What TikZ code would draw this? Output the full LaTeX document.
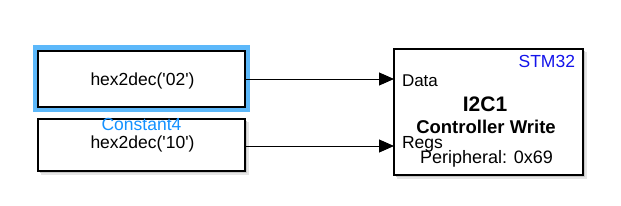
\documentclass[tikz,border=0pt]{standalone}
\usepackage{fontspec}
\setmainfont{Liberation Sans}
\usetikzlibrary{arrows.meta}
\definecolor{hilite}{RGB}{92,184,250}
\definecolor{lblblue}{RGB}{20,145,255}
\definecolor{stmblue}{RGB}{20,20,235}
\tikzset{
  blockbox/.style={draw=black,line width=1.3pt,fill=white,inner sep=0pt,outer sep=0pt},
  shadowA/.style={fill=black!10,draw=none},
  shadowB/.style={fill=black!22,draw=none},
  txt/.style={inner sep=0pt,outer sep=0pt,anchor=base},
  sig/.style={draw=black,line width=1pt,-{Triangle[length=15pt,width=13pt]}},
}
\begin{document}
\begin{tikzpicture}[x=1pt,y=-1pt]
\useasboundingbox (0,0) rectangle (621,206);
% shadows
\fill[shadowA] (41,54) rectangle (249,111);
\fill[shadowB] (40,53) rectangle (247,109);
\fill[shadowA] (41,122) rectangle (249,175);
\fill[shadowB] (40,121) rectangle (247,173);
\fill[shadowA] (397,52) rectangle (587,179);
\fill[shadowB] (396,51) rectangle (585,177);
% highlight
\fill[hilite] (33,44.5) rectangle (250,112);
% boxes
\node[blockbox,minimum width=207pt,minimum height=56pt] (box1) at (141.5,79) {};
\node[blockbox,minimum width=207pt,minimum height=52pt] (box2) at (141.5,145) {};
\node[blockbox,minimum width=189pt,minimum height=126pt] (blk) at (488.5,112) {};
% texts
\node[txt,font=\fontsize{17.5}{20}\selectfont] (t1) at (142.5,85) {hex2dec(\textquotesingle 02\textquotesingle)};
\node[txt,font=\fontsize{17.5}{20}\selectfont] (t2) at (142.5,148) {hex2dec(\textquotesingle 10\textquotesingle)};
\node[txt,font=\fontsize{17.5}{20}\selectfont,text=lblblue] (lbl) at (141.5,130) {Constant4};
\node[txt,anchor=base west,font=\fontsize{17}{20}\selectfont] (pd) at (402,86) {Data};
\node[txt,anchor=base west,font=\fontsize{17.5}{20}\selectfont] (pr) at (402,148) {Regs};
\node[txt,anchor=base east,font=\fontsize{17.5}{20}\selectfont,text=stmblue] (stm) at (575,67) {STM32};
\node[txt,font=\fontsize{21}{24}\selectfont\bfseries] (i2c) at (485,111.5) {I2C1};
\node[txt,font=\fontsize{18.5}{22}\selectfont\bfseries] (cw) at (486,133) {Controller Write};
\node[txt,font=\fontsize{18}{22}\selectfont] (per) at (486.5,163) {Peripheral: 0x69};
% connectors
\coordinate (o2) at ([yshift=-1pt]box2.east);
\draw[sig] (box1.east) -- (blk.west |- box1.east);
\draw[sig] (o2) -- (blk.west |- o2);
\end{tikzpicture}
\end{document}
